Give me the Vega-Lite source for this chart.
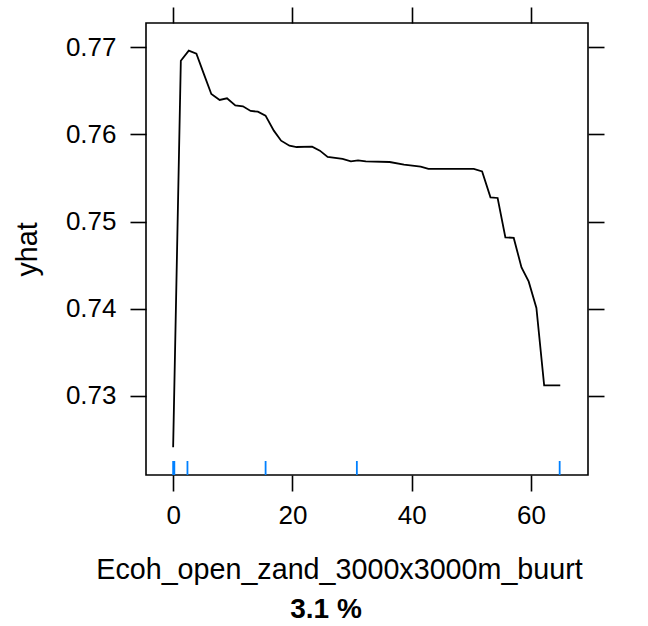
{
  "$schema": "https://vega.github.io/schema/vega-lite/v6.json",
  "width": 442,
  "height": 452,
  "autosize": "none",
  "padding": {"left": 146, "top": 23, "right": 60, "bottom": 151},
  "background": "white",
  "config": {
    "font": "Liberation Sans",
    "view": {"stroke": "black", "strokeWidth": 1.6},
    "axis": {
      "grid": false,
      "domain": false,
      "tickColor": "black",
      "tickWidth": 1.6,
      "tickSize": 16,
      "labelColor": "black",
      "labelFont": "Liberation Sans",
      "labelFontSize": 26,
      "titleFont": "Liberation Sans",
      "titleFontWeight": "normal",
      "titleColor": "black",
      "titleFontSize": 28.7
    }
  },
  "title": {
    "text": "3.1 %",
    "orient": "bottom",
    "anchor": "middle",
    "frame": "group",
    "dx": -41,
    "offset": 12,
    "font": "Liberation Sans",
    "fontSize": 28,
    "fontWeight": "bold",
    "color": "black"
  },
  "datasets": {
    "pd": [
      {"x": 0, "yhat": 0.72408},
      {"x": 1.29, "yhat": 0.76847},
      {"x": 2.62, "yhat": 0.76962},
      {"x": 3.9, "yhat": 0.76928},
      {"x": 5.19, "yhat": 0.76687},
      {"x": 6.4, "yhat": 0.76465},
      {"x": 7.8, "yhat": 0.76396},
      {"x": 9.03, "yhat": 0.76415},
      {"x": 10.42, "yhat": 0.76334},
      {"x": 11.7, "yhat": 0.76323},
      {"x": 12.99, "yhat": 0.7627},
      {"x": 14.2, "yhat": 0.76262},
      {"x": 15.49, "yhat": 0.76216},
      {"x": 16.88, "yhat": 0.76044},
      {"x": 18.1, "yhat": 0.75929},
      {"x": 19.5, "yhat": 0.75871},
      {"x": 20.7, "yhat": 0.75856},
      {"x": 23.3, "yhat": 0.7586},
      {"x": 24.6, "yhat": 0.75814},
      {"x": 25.9, "yhat": 0.75742},
      {"x": 28.4, "yhat": 0.75719},
      {"x": 29.8, "yhat": 0.75691},
      {"x": 31.0, "yhat": 0.75703},
      {"x": 32.3, "yhat": 0.75691},
      {"x": 36.3, "yhat": 0.75684},
      {"x": 38.7, "yhat": 0.75653},
      {"x": 41.5, "yhat": 0.7563},
      {"x": 42.8, "yhat": 0.75604},
      {"x": 50.4, "yhat": 0.75604},
      {"x": 51.8, "yhat": 0.75576},
      {"x": 53.2, "yhat": 0.75278},
      {"x": 54.4, "yhat": 0.75271},
      {"x": 55.7, "yhat": 0.74819},
      {"x": 57.1, "yhat": 0.74812},
      {"x": 58.4, "yhat": 0.74474},
      {"x": 59.6, "yhat": 0.74313},
      {"x": 60.9, "yhat": 0.74008},
      {"x": 62.2, "yhat": 0.73119},
      {"x": 64.9, "yhat": 0.73119}
    ],
    "rug": [
      {"x": 0},
      {"x": 0.2},
      {"x": 2.4},
      {"x": 15.5},
      {"x": 30.8},
      {"x": 64.8}
    ]
  },
  "resolve": {"axis": {"x": "independent", "y": "independent"}},
  "layer": [
    {
      "data": {"name": "rug"},
      "mark": {"type": "rule", "color": "#0080ff", "strokeWidth": 1.8},
      "encoding": {
        "x": {"field": "x", "type": "quantitative", "axis": null, "scale": {"domain": [-4.55, 69.55], "nice": false, "zero": false}},
        "y": {"datum": 0.7209, "type": "quantitative", "axis": null, "scale": {"domain": [0.7209, 0.7728], "nice": false, "zero": false}},
        "y2": {"datum": 0.72251}
      }
    },
    {
      "data": {"name": "pd"},
      "mark": {"type": "line", "color": "black", "strokeWidth": 1.8, "clip": true},
      "encoding": {
        "x": {
          "field": "x", "type": "quantitative",
          "scale": {"domain": [-4.55, 69.55], "nice": false, "zero": false},
          "axis": {
            "orient": "bottom", "values": [0, 20, 40, 60], "labelPadding": 11,
            "title": "Ecoh_open_zand_3000x3000m_buurt",
            "titleX": 193, "titleY": 103, "titleAlign": "center", "titleBaseline": "alphabetic"
          }
        },
        "y": {
          "field": "yhat", "type": "quantitative",
          "scale": {"domain": [0.7209, 0.7728], "nice": false, "zero": false},
          "axis": {
            "orient": "left", "values": [0.73, 0.74, 0.75, 0.76, 0.77], "format": ".2f", "labelPadding": 14,
            "title": "yhat", "titleAngle": -90, "titleX": -119, "titleY": 226, "titleAlign": "center", "titleBaseline": "middle"
          }
        }
      }
    },
    {
      "data": {"name": "pd"},
      "mark": {"type": "line", "opacity": 0},
      "encoding": {
        "x": {
          "field": "x", "type": "quantitative",
          "scale": {"domain": [-4.55, 69.55], "nice": false, "zero": false},
          "axis": {"orient": "top", "values": [0, 20, 40, 60], "labels": false, "title": null}
        },
        "y": {
          "field": "yhat", "type": "quantitative",
          "scale": {"domain": [0.7209, 0.7728], "nice": false, "zero": false},
          "axis": {"orient": "right", "values": [0.73, 0.74, 0.75, 0.76, 0.77], "labels": false, "title": null}
        }
      }
    }
  ]
}
